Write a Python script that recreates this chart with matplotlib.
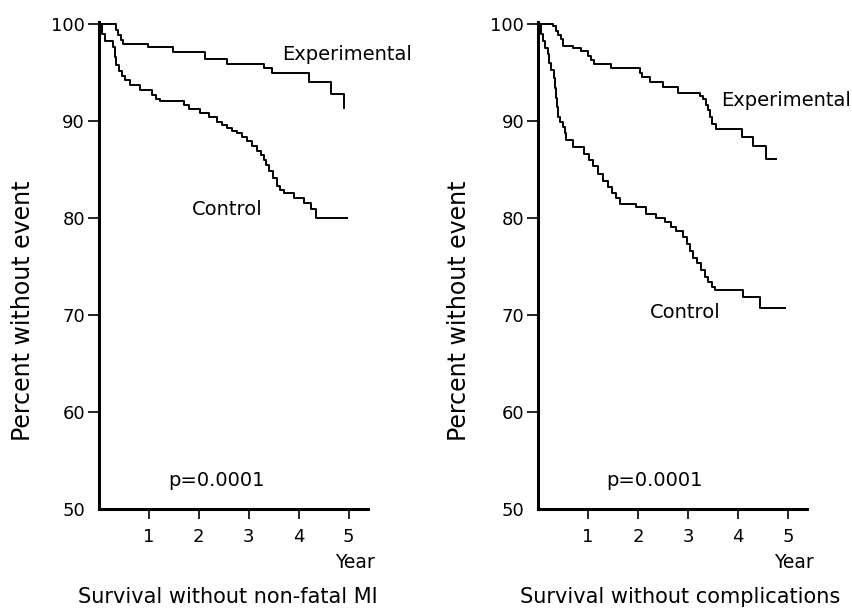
import matplotlib.pyplot as plt
import matplotlib.transforms as mtransforms

# Kaplan-Meier style curves (year, percent without event)
mi_exp_t = [0, 0.34, 0.38, 0.44, 0.49, 0.99, 1.49, 2.13, 2.56, 3.30, 3.47, 4.20, 4.64, 4.90]
mi_exp_v = [100, 99.4, 98.8, 98.3, 97.9, 97.6, 97.1, 96.4, 95.9, 95.4, 94.9, 94.0, 92.8, 91.3]

mi_ctl_t = [0, 0.06, 0.12, 0.29, 0.32, 0.34, 0.40, 0.46, 0.52, 0.62, 0.82, 1.06, 1.15, 1.22,
            1.70, 1.80, 2.03, 2.20, 2.36, 2.46, 2.56, 2.66, 2.77, 2.87, 2.97, 3.07, 3.17, 3.24,
            3.30, 3.35, 3.40, 3.48, 3.57, 3.62, 3.70, 3.90, 4.10, 4.24, 4.34, 4.97]
mi_ctl_v = [100, 99.0, 98.2, 97.6, 96.6, 95.8, 95.1, 94.6, 94.2, 93.7, 93.2, 92.7, 92.3, 92.0,
            91.6, 91.2, 90.8, 90.4, 89.9, 89.6, 89.25, 89.0, 88.7, 88.3, 87.9, 87.4, 86.9, 86.5,
            86.0, 85.4, 84.8, 84.1, 83.3, 82.9, 82.6, 82.1, 81.55, 80.9, 80.0, 80.0]

cp_exp_t = [0, 0.29, 0.35, 0.40, 0.45, 0.49, 0.69, 0.86, 1.0, 1.06, 1.12, 1.46, 2.03, 2.08,
            2.23, 2.5, 2.8, 3.23, 3.3, 3.36, 3.40, 3.44, 3.47, 3.55, 4.07, 4.3, 4.57, 4.77]
cp_exp_v = [100, 99.8, 99.3, 98.9, 98.4, 97.7, 97.5, 97.2, 96.7, 96.3, 95.9, 95.4, 94.9, 94.5,
            94.0, 93.45, 92.9, 92.6, 92.25, 91.6, 91.1, 90.4, 89.7, 89.2, 88.3, 87.45, 86.1, 86.1]

cp_ctl_t = [0, 0.05, 0.09, 0.14, 0.19, 0.22, 0.25, 0.32, 0.335, 0.35, 0.37, 0.39, 0.44, 0.49,
            0.53, 0.56, 0.69, 0.92, 1.02, 1.10, 1.19, 1.29, 1.39, 1.47, 1.55, 1.63, 1.96, 2.16,
            2.35, 2.53, 2.65, 2.76, 2.9, 2.97, 3.03, 3.10, 3.17, 3.25, 3.33, 3.40, 3.47, 3.53,
            4.1, 4.44, 4.94]
cp_ctl_v = [100, 99.0, 98.25, 97.5, 96.9, 96.0, 95.2, 94.4, 93.4, 92.4, 91.4, 90.4, 89.9, 89.4,
            88.7, 88.0, 87.3, 86.6, 86.0, 85.3, 84.5, 83.8, 83.2, 82.6, 82.0, 81.45, 81.1, 80.4,
            80.0, 79.6, 79.1, 78.7, 78.0, 77.3, 76.6, 75.9, 75.3, 74.6, 73.9, 73.4, 72.9, 72.6,
            71.8, 70.7, 70.7]

x_ticks = [1, 2, 3, 4, 5]
y_ticks = [50, 60, 70, 80, 90, 100]

plt.rcParams['font.family'] = ['DejaVu Sans']

fig = plt.figure(figsize=(8.53, 6.15), dpi=100, facecolor='white')

# left edge, curves, label spots, p-value x, title, title x (axes frac), ylabel x (fig px)
panels = [
    (0.116, mi_exp_t, mi_exp_v, mi_ctl_t, mi_ctl_v, (3.67, 96.8), (1.87, 80.9), 1.39,
     'Survival without non-fatal MI', 0.478, 23),
    (0.631, cp_exp_t, cp_exp_v, cp_ctl_t, cp_ctl_v, (3.67, 92.1), (2.23, 70.3), 1.37,
     'Survival without complications', 0.528, 459),
]

for left, et, ev, ct, cv, exp_pos, ctl_pos, p_x, title, title_x, ylab_px in panels:
    ax = fig.add_axes([left, 0.1724, 0.315, 0.792])
    ax.plot(et, ev, drawstyle='steps-post', color='black', lw=1.4)
    ax.plot(ct, cv, drawstyle='steps-post', color='black', lw=1.4)
    ax.set_xlim(0, 5.38)
    ax.set_ylim(50, 100.2)
    ax.set_xticks(x_ticks)
    ax.set_yticks(y_ticks)
    ax.tick_params(axis='y', direction='out', length=8, width=1.2, labelsize=13, pad=2)
    ax.tick_params(axis='x', direction='out', length=7.5, width=1.2, labelsize=13, pad=6)
    ax.yaxis.get_major_ticks()[0].tick1line.set_visible(False)
    for s in ['top', 'right']:
        ax.spines[s].set_visible(False)
    for s in ['left', 'bottom']:
        ax.spines[s].set_linewidth(2.2)

    fig.text(ylab_px / 853, 1 - 311 / 615, 'Percent without event', fontsize=17,
             rotation=90, ha='center', va='center')
    ax.text(exp_pos[0], exp_pos[1], 'Experimental', fontsize=14, va='center', ha='left')
    ax.text(ctl_pos[0], ctl_pos[1], 'Control', fontsize=14, va='center', ha='left')
    ax.text(p_x, 52.9, 'p=0.0001', fontsize=14, va='center', ha='left')

    trans = mtransforms.blended_transform_factory(ax.transData, ax.transAxes)
    ax.text(5.12, -0.109, 'Year', fontsize=13.5, ha='center', va='center',
            transform=trans, clip_on=False)
    ax.text(title_x, -0.181, title, fontsize=15, ha='center', va='center',
            transform=ax.transAxes)

fig.savefig('out.png', dpi=100)
